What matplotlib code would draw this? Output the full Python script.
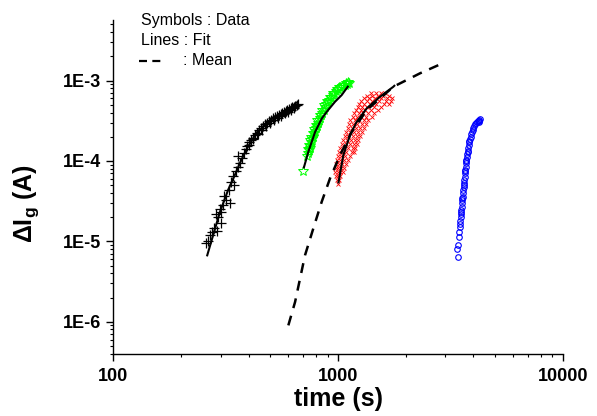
import numpy as np
import matplotlib
matplotlib.use("Agg")
import matplotlib.pyplot as plt
from matplotlib.ticker import FixedLocator, FuncFormatter, NullFormatter, LogLocator
from matplotlib.lines import Line2D

plt.rcParams['font.family'] = ['Liberation Sans', 'DejaVu Sans']
plt.rcParams['mathtext.fontset'] = 'custom'
plt.rcParams['mathtext.rm'] = 'Liberation Sans'
plt.rcParams['mathtext.bf'] = 'Liberation Sans:bold'

# ---------------- data ----------------
black_t = [258, 265, 270, 276, 282, 288, 292, 298, 303, 308, 318, 326, 335, 342, 350,
           358, 366, 372, 380, 388, 395, 402, 410, 418, 426, 435, 445, 455, 465, 475,
           485, 495, 505, 515, 525, 535, 545, 555, 565, 575, 585, 595, 605, 615, 625,
           635, 645, 655, 662, 400, 420, 440, 460, 480, 500, 520, 540, 560, 580, 600, 620, 640,
           286, 300, 312, 330, 345, 360]
black_I = [9.5e-6, 1.0e-5, 1.2e-5, 1.3e-5, 1.45e-5, 1.35e-5, 2.0e-5, 2.5e-5, 2.3e-5, 2.8e-5,
           3.3e-5, 4.4e-5, 5.5e-5, 6.5e-5, 7.5e-5,
           8.5e-5, 9.5e-5, 1.1e-4, 1.25e-4, 1.4e-4, 1.55e-4, 1.7e-4, 1.8e-4, 1.95e-4, 2.1e-4,
           2.25e-4, 2.4e-4, 2.55e-4, 2.7e-4, 2.85e-4, 2.95e-4, 3.1e-4, 3.25e-4, 3.38e-4, 3.5e-4,
           3.6e-4, 3.72e-4, 3.85e-4, 3.95e-4, 4.05e-4, 4.2e-4, 4.3e-4, 4.45e-4, 4.55e-4, 4.65e-4,
           4.75e-4, 4.85e-4, 5.0e-4, 5.15e-4, 1.6e-4, 1.9e-4, 2.15e-4, 2.45e-4, 2.75e-4, 2.95e-4,
           3.2e-4, 3.45e-4, 3.65e-4, 3.9e-4, 4.1e-4, 4.35e-4, 4.6e-4,
           2.2e-5, 1.7e-5, 3.7e-5, 3.0e-5, 5.0e-5, 1.15e-4]
black_fit_t = [261, 278, 298, 324, 352, 366, 394, 436, 514, 612, 657]
black_fit_I = [6.5e-6, 1.19e-5, 2.3e-5, 4.33e-5, 7.26e-5, 9.39e-5, 1.44e-4, 2.28e-4, 3.41e-4, 4.55e-4, 5.4e-4]

green_t = [698, 728, 735, 742, 748, 752, 760, 768, 775, 783, 790, 798, 805, 812, 820, 830,
           840, 850, 862, 875, 888, 900, 915, 930, 945, 960, 980, 1000, 1020, 1045, 1070,
           1095, 1120, 735, 745, 752, 762, 772, 782, 795, 810, 828, 848, 870, 895, 920, 950,
           985, 1015, 1050, 1085, 1110]
green_I = [7.5e-5, 1.15e-4, 1.25e-4, 1.35e-4, 1.45e-4, 1.55e-4, 1.7e-4, 1.85e-4, 2.0e-4,
           2.2e-4, 2.35e-4, 2.55e-4, 2.75e-4, 2.95e-4, 3.2e-4, 3.45e-4, 3.75e-4, 4.0e-4,
           4.35e-4, 4.7e-4, 5.05e-4, 5.4e-4, 5.8e-4, 6.2e-4, 6.6e-4, 7.0e-4, 7.4e-4, 7.8e-4,
           8.2e-4, 8.5e-4, 8.8e-4, 9.1e-4, 9.3e-4, 1.4e-4, 1.6e-4, 1.8e-4, 2.0e-4, 2.25e-4,
           2.5e-4, 2.8e-4, 3.2e-4, 3.7e-4, 4.3e-4, 4.9e-4, 5.6e-4, 6.3e-4, 7.0e-4, 7.8e-4,
           8.4e-4, 8.9e-4, 9.3e-4, 9.6e-4]
green_fit_t = [703, 738, 791, 847, 891, 970, 1038, 1112]
green_fit_I = [8.07e-5, 1.3e-4, 2.3e-4, 3.38e-4, 4.09e-4, 5.45e-4, 6.59e-4, 8.6e-4]

red_levels = [5.2e-5, 5.8e-5, 6.5e-5, 7.3e-5, 8.2e-5, 9.2e-5, 1.03e-4, 1.15e-4, 1.3e-4,
              1.45e-4, 1.62e-4, 1.82e-4, 2.05e-4, 2.3e-4, 2.6e-4, 2.9e-4, 3.2e-4, 3.55e-4,
              3.9e-4, 4.3e-4, 4.7e-4, 5.1e-4, 5.5e-4, 6.0e-4, 6.5e-4, 7.0e-4]
red_times = [[1000], [985, 1010], [978, 1000, 1025], [972, 995, 1020, 1050],
             [975, 1000, 1030, 1065], [982, 1010, 1045, 1085], [990, 1020, 1060, 1110],
             [1000, 1035, 1075, 1135], [1015, 1050, 1090, 1150, 1180],
             [1025, 1065, 1110, 1160, 1195], [1040, 1080, 1125, 1175, 1210],
             [1055, 1095, 1140, 1190, 1225], [1070, 1110, 1160, 1210, 1250],
             [1090, 1130, 1180, 1230, 1280], [1105, 1150, 1200, 1255, 1305],
             [1120, 1165, 1220, 1280, 1335], [1135, 1185, 1240, 1300, 1360],
             [1160, 1210, 1265, 1330, 1410], [1180, 1235, 1290, 1360, 1450],
             [1205, 1260, 1320, 1400, 1500], [1225, 1285, 1350, 1440, 1560],
             [1245, 1310, 1390, 1480, 1600, 1680], [1265, 1340, 1420, 1520, 1630, 1720],
             [1300, 1380, 1460, 1560, 1660, 1740], [1350, 1420, 1500, 1590, 1680],
             [1400, 1470, 1550, 1620]]
red_fit_t = [1003, 1056, 1131, 1211, 1342, 1538, 1763, 1794]
red_fit_I = [5.25e-5, 1.18e-4, 2.1e-4, 3.07e-4, 4.51e-4, 6.29e-4, 8.37e-4, 8.79e-4]

blue_t = [3430, 3375, 3430, 3455, 3470, 3490, 3480, 3500, 3510, 3525, 3540, 3545, 3560,
          3570, 3585, 3600, 3610, 3620, 3635, 3650, 3660, 3675, 3690, 3700, 3715, 3730,
          3745, 3760, 3780, 3800, 3820, 3840, 3865, 3890, 3915, 3945, 3975, 4005, 4040,
          4080, 4120, 4160, 4200, 4240, 4280, 4260, 4230, 3530, 3580, 3630, 3680, 3720, 3770, 3830]
blue_I = [6.4e-6, 8.1e-6, 8.9e-6, 1.13e-5, 1.31e-5, 1.5e-5, 1.65e-5, 1.8e-5, 2.0e-5,
          2.2e-5, 2.45e-5, 2.7e-5, 3.0e-5, 3.3e-5, 3.6e-5, 4.0e-5, 4.4e-5, 4.8e-5, 5.3e-5,
          5.8e-5, 6.4e-5, 7.0e-5, 7.7e-5, 8.5e-5, 9.3e-5, 1.02e-4, 1.12e-4, 1.22e-4,
          1.33e-4, 1.45e-4, 1.58e-4, 1.72e-4, 1.86e-4, 2.0e-4, 2.15e-4, 2.3e-4, 2.45e-4,
          2.6e-4, 2.75e-4, 2.85e-4, 2.95e-4, 3.05e-4, 3.15e-4, 3.2e-4, 3.3e-4, 3.1e-4,
          3.05e-4, 2.3e-5, 3.5e-5, 5.0e-5, 7.5e-5, 1.0e-4, 1.3e-4, 1.75e-4]

mean_t = [601, 644, 713, 776, 846, 921, 1021, 1151, 1342, 1763, 2317, 2950]
mean_I = [9.0e-7, 1.76e-6, 6.7e-6, 1.44e-5, 3.1e-5, 6.05e-5, 1.18e-4, 2.3e-4, 4.29e-4,
          8.37e-4, 1.23e-3, 1.66e-3]

x_ticks = [100, 1000, 10000]
y_ticks = [1e-6, 1e-5, 1e-4, 1e-3]
legend_lines = ["Symbols : Data", "Lines : Fit", ": Mean"]

# ---------------- figure ----------------
fig = plt.figure(figsize=(5.97, 4.16), dpi=100)
ax = fig.add_axes([0.1898, 0.1483, 0.7528, 0.8036])
ax.set_xscale('log')
ax.set_yscale('log')

red_t = [t for ts in red_times for t in ts]
red_I = [lv for lv, ts in zip(red_levels, red_times) for _ in ts]

ax.plot(black_t, black_I, ls='none', marker='+', ms=7, mew=0.9, color='black')
ax.plot(green_t, green_I, ls='none', marker='*', ms=7, mew=0.7, mfc='none', mec='#00ff00')
ax.plot(red_t, red_I, ls='none', marker='x', ms=3.5, mew=0.6, color='red')
ax.plot(blue_t, blue_I, ls='none', marker='o', ms=4, mew=0.8, mfc='none', mec='blue')

for ft, fI in [(black_fit_t, black_fit_I), (green_fit_t, green_fit_I), (red_fit_t, red_fit_I)]:
    ax.plot(ft, fI, color='black', lw=1.5, solid_capstyle='butt')

ax.plot(mean_t, mean_I, color='black', lw=1.8, dashes=(4, 3.2))

ax.set_xlim(100, 10000)
ax.set_ylim(3.93e-7, 5.66e-3)

ax.xaxis.set_major_locator(FixedLocator(x_ticks))
ax.xaxis.set_major_formatter(FuncFormatter(lambda v, p: f"{int(round(v))}"))
ax.xaxis.set_minor_locator(LogLocator(base=10, subs=np.arange(2, 10)))
ax.xaxis.set_minor_formatter(NullFormatter())
ax.yaxis.set_major_locator(FixedLocator(y_ticks))
ax.yaxis.set_major_formatter(FuncFormatter(lambda v, p: f"1E{int(round(np.log10(v)))}"))
ax.yaxis.set_minor_locator(LogLocator(base=10, subs=np.arange(2, 10), numticks=20))
ax.yaxis.set_minor_formatter(NullFormatter())

for s in ['top', 'right']:
    ax.spines[s].set_visible(False)
for s in ['left', 'bottom']:
    ax.spines[s].set_linewidth(1.0)

ax.tick_params(which='major', direction='out', length=5, width=1.0, pad=3.5,
               labelsize=13)
ax.tick_params(axis='x', which='major', pad=5)
ax.tick_params(which='minor', direction='out', length=2.5, width=0.8)
for lab in ax.get_xticklabels() + ax.get_yticklabels():
    lab.set_fontweight('bold')

ax.set_xlabel('time (s)', fontsize=18, fontweight='bold', labelpad=1)
ax.set_ylabel(r'ΔI$_{\mathbf{g}}$ (A)', fontsize=18, fontweight='bold')
ax.yaxis.set_label_coords(-0.16, 0.45)

# annotation block
fig.text(140.7 / 597, 1 - 20.7 / 416, legend_lines[0], fontsize=11.5, va='center', ha='left')
fig.text(140.7 / 597, 1 - 40.7 / 416, legend_lines[1], fontsize=11.5, va='center', ha='left')
fig.text(183.0 / 597, 1 - 60.7 / 416, legend_lines[2], fontsize=11.5, va='center', ha='left')
fig.add_artist(Line2D([139.3 / 597, 160.7 / 597], [1 - 61 / 416, 1 - 61 / 416],
                      transform=fig.transFigure, color='black', lw=1.6, dashes=(3.6, 2.4)))

fig.savefig('out.png', dpi=100)
